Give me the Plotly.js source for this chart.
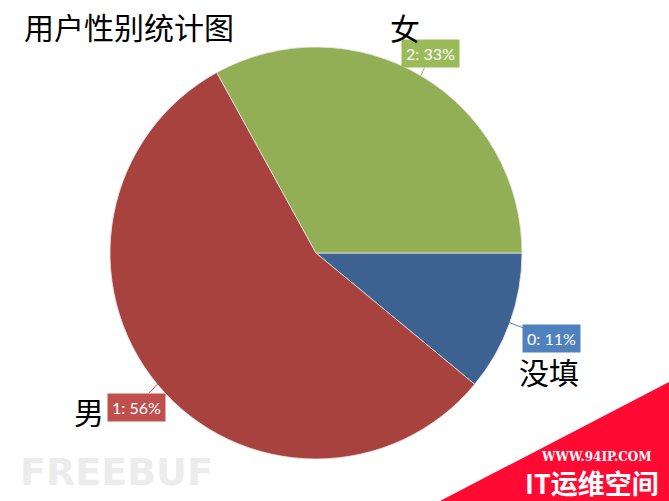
<!DOCTYPE html>
<html>
<head>
<meta charset="utf-8">
<script src="https://cdn.plot.ly/plotly-3.0.1.min.js"></script>
<style>
  html, body { margin: 0; padding: 0; background: #fff; }
  #chart { width: 669px; height: 501px; }
</style>
</head>
<body>
<div id="chart"></div>
<script>
const categories = ["没填", "男", "女"];
const values = [11, 56, 33];
const sliceColors = ["#3d6291", "#a8423f", "#92af55"];
const pillColors = ["#4f81bd", "#c0504d", "#9bbb59"];

const W = 669, H = 501;
const cx = 316, cy = 253, R = 206;

// label offsets from slice edge midpoint, in pixels
const pillOffset = [[42, 16], [-21, 23], [10, -22]];
const nameShift = [[39, -48], [-68, -27], [-16, 49]];

const total = values.reduce((s, v) => s + v, 0);

function edgePoint(i) {
  let before = 0;
  for (let k = 0; k < i; k++) before += values[k];
  const mid = (before + values[i] / 2) / total * 2 * Math.PI;
  // clockwise starting from east
  const px = cx + R * Math.cos(mid);
  const py = cy + R * Math.sin(mid);
  return {x: px / W, y: 1 - py / H};
}

const annotations = [];
values.forEach((v, i) => {
  const p = edgePoint(i);
  annotations.push({
    xref: "paper", yref: "paper", x: p.x, y: p.y,
    text: i + ": " + Math.round(v / total * 100) + "%",
    showarrow: true, arrowhead: 0, arrowwidth: 1, arrowcolor: pillColors[i],
    ax: pillOffset[i][0], ay: pillOffset[i][1], standoff: 0,
    bgcolor: pillColors[i], borderpad: 4,
    font: {family: "Lato, sans-serif", size: 16, color: "#ffffff"}
  });
  annotations.push({
    xref: "paper", yref: "paper", x: p.x, y: p.y,
    xanchor: "center", yanchor: "middle",
    text: categories[i], showarrow: false,
    xshift: nameShift[i][0], yshift: nameShift[i][1],
    font: {family: "Noto Sans CJK SC, sans-serif", size: 30, color: "#000000"}
  });
});

// watermarks
annotations.push({
  xref: "paper", yref: "paper", x: 18 / W, y: 1 - 472 / H,
  xanchor: "left", yanchor: "middle",
  text: "FREEBUF", showarrow: false,
  font: {family: "DejaVu Sans, sans-serif", size: 38, color: "#ececec", weight: "bold"}
});
annotations.push({
  xref: "paper", yref: "paper", x: 596 / W, y: 1 - 457 / H,
  xanchor: "center", yanchor: "middle",
  text: "WWW.94IP.COM", showarrow: false,
  font: {family: "DejaVu Serif, serif", size: 12, color: "#ffffff", weight: "bold"}
});
annotations.push({
  xref: "paper", yref: "paper", x: 592 / W, y: 1 - 482 / H,
  xanchor: "center", yanchor: "middle",
  text: "IT运维空间", showarrow: false,
  font: {family: "Noto Sans CJK SC, sans-serif", size: 27, color: "#ffffff", weight: "bold"}
});

const trace = {
  type: "pie",
  labels: categories,
  values: values,
  sort: false,
  direction: "clockwise",
  rotation: 90,
  textinfo: "none",
  hoverinfo: "label+percent",
  marker: {colors: sliceColors, line: {color: "rgba(230,230,230,0.8)", width: 1}},
  domain: {x: [(cx - R) / W, (cx + R) / W], y: [1 - (cy + R) / H, 1 - (cy - R) / H]}
};

const layout = {
  width: W, height: H,
  margin: {l: 0, r: 0, t: 0, b: 0},
  showlegend: false,
  paper_bgcolor: "#ffffff",
  title: {
    text: "用户性别统计图",
    x: 24 / W, xanchor: "left", y: 1 - 28 / H, yanchor: "middle",
    font: {family: "Noto Sans CJK SC, sans-serif", size: 30, color: "#000000"}
  },
  shapes: [{
    type: "path", xref: "paper", yref: "paper",
    path: "M " + (440 / W) + " 0 L 1 " + (1 - 382 / H) + " L 1 0 Z",
    fillcolor: "#ff0a33", line: {width: 0}, layer: "below"
  }],
  annotations: annotations
};

Plotly.newPlot("chart", [trace], layout, {displayModeBar: false});
</script>
</body>
</html>
